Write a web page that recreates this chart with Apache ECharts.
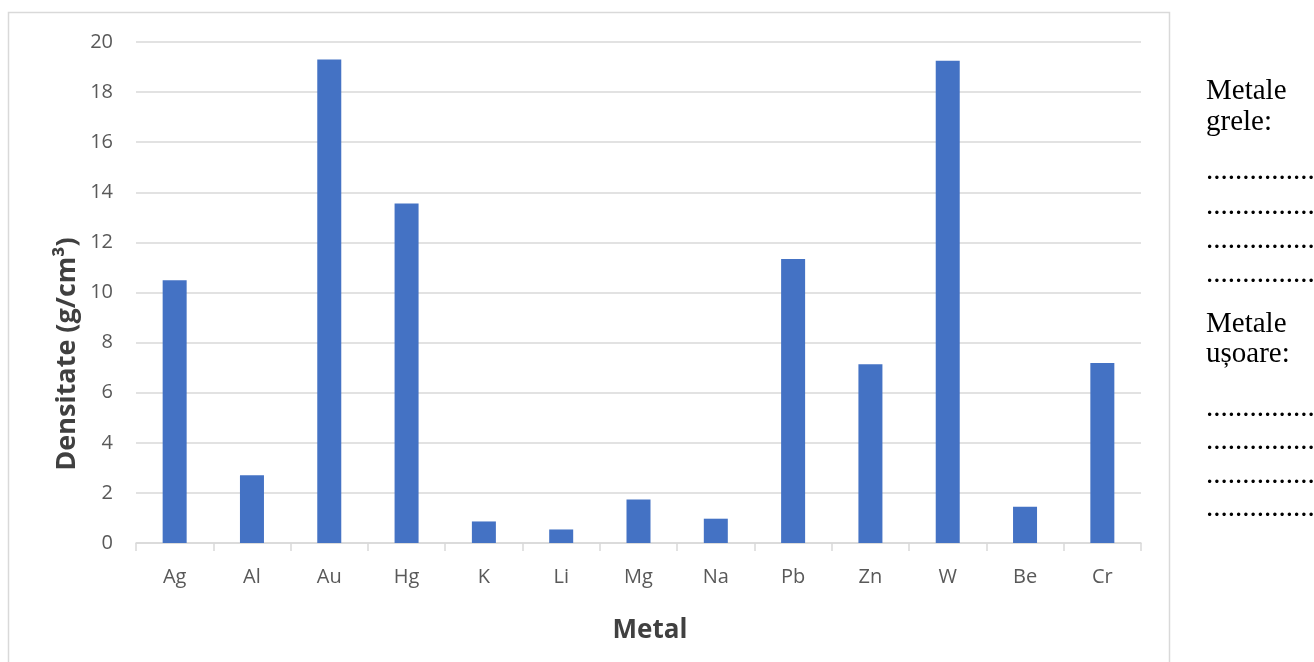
<!DOCTYPE html>
<html>
<head>
<meta charset="utf-8">
<script src="https://cdn.jsdelivr.net/npm/echarts@6/dist/echarts.min.js"></script>
<style>
  html, body { margin: 0; padding: 0; background: #fff; }
  #chart { width: 1314px; height: 662px; }
</style>
</head>
<body>
<div id="chart"></div>
<script>
// Metal densities (g/cm³)
const metals = ['Ag', 'Al', 'Au', 'Hg', 'K', 'Li', 'Mg', 'Na', 'Pb', 'Zn', 'W', 'Be', 'Cr'];
const densities = [10.49, 2.7, 19.3, 13.55, 0.86, 0.54, 1.74, 0.97, 11.34, 7.14, 19.25, 1.45, 7.19];
const yTicks = [0, 2, 4, 6, 8, 10, 12, 14, 16, 18, 20];

// Worksheet notes beside the chart
const heavyTitle = ['Metale', 'grele:'];
const lightTitle = ['Metale', 'ușoare:'];
const blankLine = '..............................';

const chart = echarts.init(document.getElementById('chart'), null, { renderer: 'canvas' });

const serif = "'Liberation Serif', 'DejaVu Serif', serif";
const sans = "'Open Sans', 'Noto Sans', sans-serif";

const noteText = (text, x, y) => ({
  type: 'text', left: x, top: y,
  style: { text, font: '29px ' + serif, fill: '#000' }
});

const graphics = [
  // chart frame
  { type: 'rect', shape: { x: 8.5, y: 12.5, width: 1161, height: 670 },
    style: { fill: 'none', stroke: '#d9d9d9', lineWidth: 1.5 }, z: -1 },
  // y axis title
  { type: 'text', x: 67, y: 354, rotation: Math.PI / 2,
    style: { text: 'Densitate (g/cm³)', font: 'bold 27px ' + sans, fill: '#404040',
             align: 'center', verticalAlign: 'middle' } },
  // x axis title
  { type: 'text', x: 650, y: 631,
    style: { text: 'Metal', font: 'bold 26px ' + sans, fill: '#404040',
             align: 'center', verticalAlign: 'middle' } },
  noteText(heavyTitle[0], 1206, 77),
  noteText(heavyTitle[1], 1206, 108),
  noteText(lightTitle[0], 1206, 310),
  noteText(lightTitle[1], 1206, 340)
];
[157, 192, 226, 260].forEach(y => graphics.push(noteText(blankLine, 1206, y)));
[394, 427, 461, 494].forEach(y => graphics.push(noteText(blankLine, 1206, y)));

chart.setOption({
  animation: false,
  grid: { left: 136, right: 173, top: 42, bottom: 119 },
  xAxis: {
    type: 'category',
    data: metals,
    axisLine: { lineStyle: { color: '#d9d9d9', width: 1.5 } },
    axisTick: { show: true, length: 8, lineStyle: { color: '#d9d9d9', width: 1.5 } },
    axisLabel: { color: '#595959', fontFamily: sans, fontSize: 20, margin: 24 }
  },
  yAxis: {
    type: 'value',
    min: yTicks[0],
    max: yTicks[yTicks.length - 1],
    interval: 2,
    axisLine: { show: false },
    axisTick: { show: false },
    axisLabel: { color: '#595959', fontFamily: sans, fontSize: 20, margin: 23 },
    splitLine: { lineStyle: { color: '#d9d9d9', width: 1.5 } }
  },
  series: [{
    type: 'bar',
    data: densities,
    barWidth: 24,
    itemStyle: { color: '#4472c4' }
  }],
  graphic: graphics
});
</script>
</body>
</html>
